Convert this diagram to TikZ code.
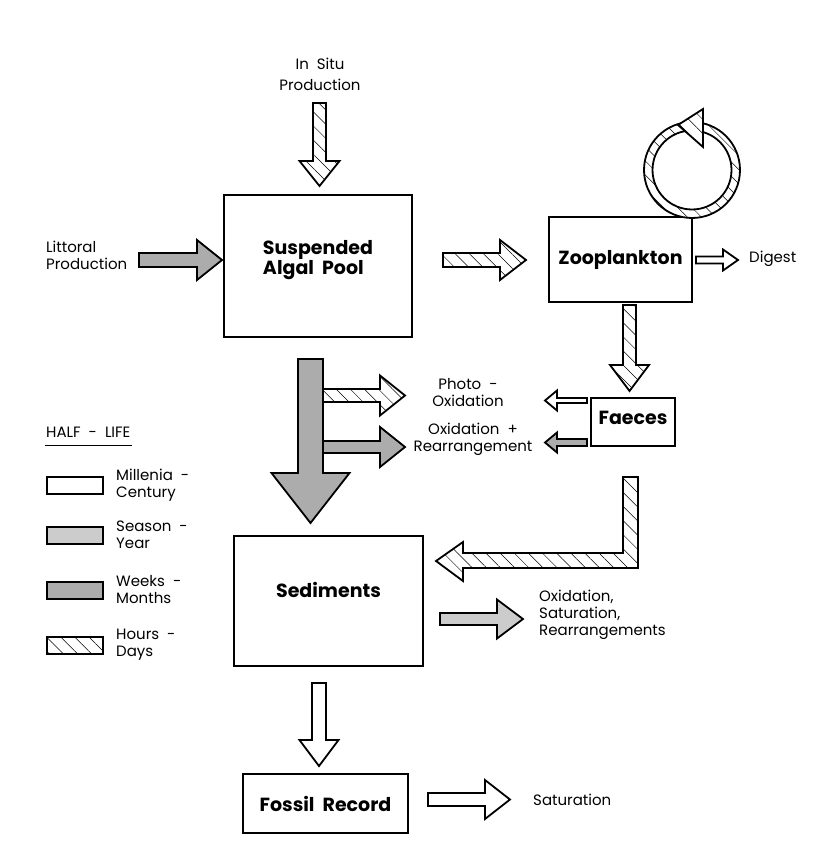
\documentclass[tikz,border=0pt]{standalone}
\usepackage{fontspec}
\setmainfont{Poppins}
\usetikzlibrary{calc}
\usetikzlibrary{patterns.meta}

\newcommand\blockarrow[6]{%
\coordinate (ba-b) at ($(#3)!#6!(#2)$);
\draw[#1] ($(#2)!#4!90:(#3)$) -- ($(ba-b)!#4!-90:(#2)$) -- ($(ba-b)!#5!-90:(#2)$) -- (#3)
 -- ($(ba-b)!#5!90:(#2)$) -- ($(ba-b)!#4!90:(#2)$) -- ($(#2)!#4!-90:(#3)$) -- cycle;}

\tikzset{
box/.style={draw, line width=2pt, align=center, font=\bfseries\fontsize{19}{20}\selectfont},
lbl/.style={align=center, font=\fontsize{15}{17}\selectfont, inner sep=0pt},
arr/.style={draw, line width=1.8pt, line join=miter},
hatched/.style={arr, preaction={fill=white}, pattern={Lines[angle=-45,distance=10pt,line width=0.5pt]}},
millenia/.style={arr, fill=white},
season/.style={arr, fill=gray!40},
weeks/.style={arr, fill=gray!65}
}

\begin{document}
\begin{tikzpicture} [x=1pt,y=-1pt]
\useasboundingbox[fill=white] (0,0) rectangle (816,845);

\node[box, align=left, minimum width=188, minimum height=142] (algal) at (318,266) {Suspended\\Algal~~Pool\\[-2pt]};
\node[box, minimum width=143, minimum height=85] (zoo) at (620.5,259.5) {Zooplankton};
\node[box, minimum width=84, minimum height=48] (faeces) at (633,422) {Faeces\\[-12pt]};
\node[box, minimum width=189, minimum height=130] (sed) at (328.5,601) {Sediments\\[2pt]};
\node[box, minimum width=165, minimum height=59] (fossil) at (325.5,803.5) {Fossil~~Record};

\node[lbl] (insitu) at (320,74) {In~~Situ\\[4pt]Production};
\node[lbl, anchor=west, align=left] (littoral) at (46,255) {Littoral\\Production};
\node[lbl, anchor=west] (digest) at (749,259) {Digest};
\node[lbl] (photo) at (468,393) {Photo~~-\\Oxidation};
\node[lbl] (oxid) at (473,439) {Oxidation~~+\\Rearrangement};
\node[lbl, anchor=west, align=left] (sedout) at (539,615) {Oxidation,\\Saturation,\\Rearrangements};
\node[lbl, anchor=west] (satur) at (533,800) {Saturation};

\coordinate (insitu-s) at (319.5,103);   \coordinate (insitu-t) at (319.5,186);
\coordinate (littoral-s) at (139,260);   \coordinate (littoral-t) at (222,260);
\coordinate (algal-s) at (443,260);      \coordinate (algal-t) at (526,260);
\coordinate (digest-s) at (696,260);     \coordinate (digest-t) at (738,260);
\coordinate (zoo-s) at (629.5,305);      \coordinate (zoo-t) at (629.5,391);
\coordinate (photo-s) at (587,400.5);    \coordinate (photo-t) at (545,400.5);
\coordinate (oxid-s) at (587,442.5);     \coordinate (oxid-t) at (545,442.5);
\coordinate (sink-s) at (310.5,359);     \coordinate (sink-t) at (310.5,523);
\coordinate (bphoto-s) at (312,395.5);   \coordinate (bphoto-t) at (405,395.5);
\coordinate (boxid-s) at (312,447);      \coordinate (boxid-t) at (405,447);
\coordinate (sed-s) at (440,619);        \coordinate (sed-t) at (523,619);
\coordinate (fossil-s) at (319,683);     \coordinate (fossil-t) at (319,766);
\coordinate (satur-s) at (428,799.5);    \coordinate (satur-t) at (510,799.5);
\coordinate (ring) at (692,170);

\blockarrow{hatched}{insitu-s}{insitu-t}{6.5pt}{20pt}{25pt}
\blockarrow{weeks}{littoral-s}{littoral-t}{7pt}{20pt}{25pt}
\blockarrow{hatched}{algal-s}{algal-t}{7pt}{20pt}{26pt}
\blockarrow{millenia}{digest-s}{digest-t}{3.5pt}{10.5pt}{15pt}
\blockarrow{hatched}{zoo-s}{zoo-t}{6.5pt}{19.5pt}{26pt}
\blockarrow{millenia}{photo-s}{photo-t}{2.5pt}{10pt}{12pt}
\blockarrow{weeks}{oxid-s}{oxid-t}{3.5pt}{10pt}{12pt}
\blockarrow{hatched}{bphoto-s}{bphoto-t}{6.5pt}{20pt}{25pt}
\blockarrow{weeks}{boxid-s}{boxid-t}{6pt}{20pt}{25pt}
\blockarrow{weeks}{sink-s}{sink-t}{12.5pt}{39pt}{50pt}
\blockarrow{season}{sed-s}{sed-t}{6pt}{19.5pt}{26pt}
\blockarrow{millenia}{fossil-s}{fossil-t}{7pt}{19.5pt}{26pt}
\blockarrow{millenia}{satur-s}{satur-t}{6.5pt}{19.5pt}{25pt}

\draw[hatched, even odd rule] (ring) circle[radius=48] (ring) circle[radius=39.5];
\draw[hatched] ($(ring)+(-14,-45)$) -- ($(ring)+(11,-61)$) -- ($(ring)+(11,-23)$) -- cycle;

\draw[hatched] ($(faeces.south)+(-10,30)$) -- ++(15,0) |- ($(sed.east)+(39,-33)$) -- ++(0,13)
 -- ($(sed.east)+(12,-40)$) -- ($(sed.east)+(39,-59)$) -- ++(0,11) -| cycle;

\node[lbl, anchor=west] (halflife) at (46,432) {HALF~~-~~LIFE};
\draw[line width=1.8pt] ($(halflife.south west)+(-1,8)$) -- ($(halflife.south east)+(1,8)$);

\foreach \y/\sty/\txt in {477/millenia/{Millenia~~-\\Century}, 527/season/{Season~~-\\Year},
 582/weeks/{Weeks~~-\\Months}, 637/hatched/{Hours~~-\\Days}}
{
\draw[\sty] (47,\y) rectangle ++(56,17);
\node[lbl, anchor=west, align=left] at (116,\y+8) {\txt};
}

\end{tikzpicture}
\end{document}
